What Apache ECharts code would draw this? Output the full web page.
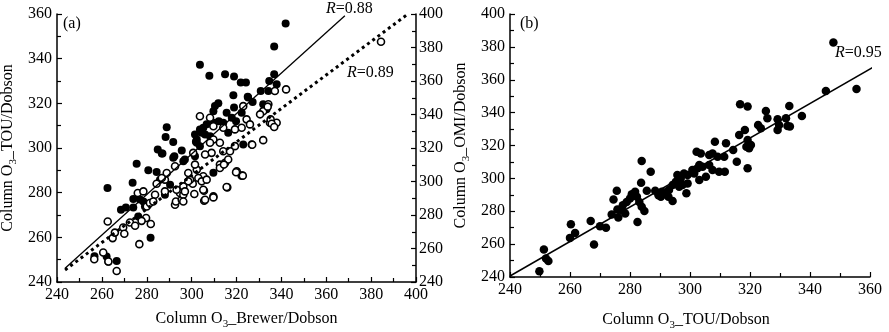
<!DOCTYPE html>
<html><head><meta charset="utf-8">
<script src="https://cdn.jsdelivr.net/npm/echarts@6/dist/echarts.min.js"></script>
<style>html,body{margin:0;padding:0;background:#fff}#c{width:889px;height:332px}</style>
</head><body><div id="c"></div>
<script>
// ---- Panel (a): TOU vs Brewer (filled, left axis) ----
const touBrewerX = [256.7,262.1,262.9,266.6,262.5,268.5,270.7,274.0,274.0,276.2,277.0,281.7,275.5,280.7,284.4,273.7,288.9,288.4,291.8,284.9,287.0,295.6,292.3,303.7,307.9,314.9,318.9,321.9,324.2,318.6,325.0,311.9,310.4,309.7,318.9,312.1,319.8,301.9,305.2,304.5,308.2,316.3,323.0,336.8,341.9,336.8,334.6,337.9,330.8,334.2,325.2,327.2,331.9,333.4,286.7,291.8,296.3,317.9,322.3,302.3,301.5,297.0,309.7,303.7,306.0,301.5,309.7,315.6,278.5,279.2,302.3,303.7,285.9,290.4,288.1,306.7,314.1];
const touBrewerY = [251.5,251.4,249.1,249.4,282.1,272.4,273.4,277.2,273.4,269.3,276.9,259.8,293.0,290.0,289.2,284.4,309.3,304.9,302.7,299.3,297.5,298.9,296.3,337.3,332.3,333.0,332.0,329.3,329.3,323.6,323.0,320.0,318.8,316.5,318.1,312.0,312.0,302.8,309.1,306.8,305.3,306.8,301.6,345.5,355.8,333.0,330.0,328.5,325.5,325.5,322.6,320.6,319.6,317.3,297.5,295.6,294.1,313.6,315.8,302.3,296.3,294.8,288.9,308.3,306.1,306.1,311.3,315.8,276.1,273.8,303.8,300.8,285.8,283.6,279.1,310.6,311.3];
// ---- Panel (a): OMI vs Brewer (open, right axis) ----
const omiBrewerX = [256.6,260.6,262.9,266.6,262.6,264.8,265.8,269.5,270.0,272.5,276.7,274.8,276.0,278.5,279.7,277.7,281.8,280.0,281.4,283.7,284.4,288.1,288.9,292.6,293.0,295.6,294.8,300.5,299.3,298.5,305.5,305.6,309.7,312.6,315.9,301.2,286.7,282.9,292.6,288.1,293.3,296.3,303.7,308.2,324.5,326.0,309.7,314.1,322.3,319.3,319.3,326.8,331.9,334.9,337.9,309.7,308.2,312.6,314.1,317.1,308.9,306.0,300.7,314.9,312.6,316.3,320.1,322.3,315.6,305.2,303.0,304.5,306.7,305.2,306.0,309.7,298.5,296.3,302.3,301.5,297.0,296.3,342.1,337.1,334.2,331.9,323.0,335.2,335.7,336.8,327.0,330.5,333.9,384.4,319.8,322.8,314.4];
const omiBrewerY = [253.6,257.6,252.2,246.6,276.1,266.2,269.5,272.5,268.8,275.5,262.6,273.6,293.1,294.1,278.2,276.5,274.6,285.1,287.2,292.1,298.7,301.1,305.1,286.1,288.1,289.1,293.1,298.7,301.1,305.1,294.5,288.5,291.1,310.1,296.5,292.5,302.1,288.1,309.1,294.1,295.1,292.1,339.0,338.1,337.1,334.1,333.0,332.1,332.1,331.1,321.1,322.1,324.7,335.1,335.1,325.1,323.1,323.1,318.1,318.1,317.1,316.1,317.1,311.1,308.1,313.1,306.1,303.5,296.7,303.1,302.1,300.1,301.1,295.1,289.1,290.5,300.1,297.1,307.1,310.1,294.1,288.1,355.0,354.0,346.1,342.0,345.0,337.1,334.5,332.5,321.9,340.1,344.7,383.4,305.5,303.5,310.1];
// ---- Panel (b): OMI vs TOU ----
const omiTouX = [249.8,251.3,252.0,252.8,260.3,260.0,261.7,266.9,268.0,270.0,272.0,273.9,274.5,275.6,275.8,276.1,277.3,278.4,277.6,278.9,280.0,280.6,281.7,282.5,282.3,283.1,283.9,283.9,283.7,284.8,285.6,286.9,288.4,289.5,290.6,292.3,292.8,347.8,345.3,355.5,337.3,333.1,332.0,329.2,329.7,332.5,333.3,329.2,325.3,325.8,322.7,323.6,316.7,319.2,318.3,316.4,319.2,320.3,319.7,318.8,319.2,315.6,314.4,312.0,311.4,311.6,309.7,308.3,309.2,307.5,306.4,303.6,302.2,306.4,307.5,304.2,303.1,302.5,305.3,303.1,301.4,300.8,299.2,298.0,296.9,295.8,295.3,299.2,297.5,296.4,294.2,293.0,291.9,290.8,290.3,294.2,298.8];
const omiTouY = [243.5,256.7,251.2,249.8,272.1,263.8,266.8,274.0,259.8,270.9,269.9,278.0,287.2,292.4,281.1,276.2,280.7,278.7,283.7,285.7,287.8,290.4,291.8,273.5,288.8,285.7,282.7,310.5,297.3,280.2,292.4,304.0,292.4,289.8,291.8,291.8,288.8,382.7,353.2,354.3,338.0,344.1,336.6,336.0,332.5,331.9,331.5,329.5,341.0,336.6,332.5,330.5,345.1,343.7,329.5,326.4,323.4,320.3,318.3,319.3,306.1,310.1,317.3,321.3,313.2,304.0,304.0,322.3,313.2,315.2,314.2,315.2,316.2,308.1,305.1,307.1,308.1,306.1,301.0,299.0,303.0,305.1,302.0,303.0,300.0,302.0,297.9,296.9,295.9,294.9,295.9,292.9,290.9,290.9,288.8,286.2,290.9];
// ---- Regression lines (end points) ----
const fitTouBrewer = [[243.6,246.2],[368.3,359.2]];
const fitOmiBrewer = [[243.6,247.2],[396.4,400]];
const fitOmiTou = [[240,240.6],[366.4,373.2]];
// ---- Axis ticks ----
const axisA_x = {min:240,max:400,interval:20};
const axisA_yL = {min:240,max:360,interval:20};
const axisA_yR = {min:240,max:400,interval:20};
const axisB_x = {min:240,max:360,interval:20};
const axisB_y = {min:240,max:400,interval:20};
const labels = {
  ax:'Column O{s|3}_Brewer/Dobson', ay:'Column O{s|3}_TOU/Dobson',
  bx:'Column O{s|3}_TOU/Dobson', by:'Column O{s|3}_OMI/Dobson',
  ra:'{i|R}=0.88', rb:'{i|R}=0.89', rc:'{i|R}=0.95', pa:'(a)', pb:'(b)'
};

const FONT = '"Liberation Serif","Times New Roman",serif';
const zip = (xs, ys) => xs.map((x, i) => [x, ys[i]]);
const nameStyle = {
  fontFamily: FONT, fontSize: 16, color: '#000', lineHeight: 22,
  rich: { s: { fontFamily: FONT, fontSize: 11, color: '#000', verticalAlign: 'bottom', lineHeight: 13 } }
};
function lbl(margin, pad) {
  return { show: true, color: '#000', fontFamily: FONT, fontSize: 16, margin: margin, padding: pad,
    showMinLabel: true, showMaxLabel: true, hideOverlap: false };
}
function axis(base, extra) {
  return Object.assign({
    type: 'value', scale: false,
    axisLine: { show: true, onZero: false, lineStyle: { color: '#000', width: 1.5 } },
    axisTick: { show: true, inside: true, length: 5, lineStyle: { color: '#000', width: 1.2 } },
    minorTick: { show: true, splitNumber: 2, length: 4, lineStyle: { color: '#000', width: 1.2 } },
    axisLabel: lbl(5, [0, 0, 0, 0]),
    splitLine: { show: false }, minorSplitLine: { show: false },
    nameTextStyle: nameStyle, nameLocation: 'middle'
  }, base, extra);
}
const chart = echarts.init(document.getElementById('c'), null, { renderer: 'canvas' });
const rText = (txt, x, y) => ({
  type: 'text', x: x, y: y,
  style: { text: txt, fontFamily: FONT, fontSize: 16, fill: '#000', verticalAlign: 'middle',
    rich: { i: { fontFamily: FONT, fontSize: 16, fontStyle: 'italic', fill: '#000' } } }
});
chart.setOption({
  animation: false,
  backgroundColor: '#fff',
  grid: [
    { left: 57, top: 14, width: 359, height: 268, outerBoundsMode: 'none', containLabel: false },
    { left: 510, top: 14, width: 360, height: 263, outerBoundsMode: 'none', containLabel: false }
  ],
  xAxis: [
    axis(axisA_x, { gridIndex: 0, position: 'bottom', name: labels.ax, nameGap: 23,
      nameTextStyle: Object.assign({}, nameStyle, { padding: [0, 0, 0, 20] }) }),
    axis(axisB_x, { gridIndex: 1, position: 'bottom', name: labels.bx, nameGap: 32,
      nameTextStyle: Object.assign({}, nameStyle, { padding: [0, 8, 0, 0] }) })
  ],
  yAxis: [
    axis(axisA_yL, { gridIndex: 0, position: 'left', name: labels.ay, nameGap: 38, nameRotate: 90, axisLabel: lbl(5, [3, 0, 0, 0]) }),
    axis(axisA_yR, { gridIndex: 0, position: 'right', axisLabel: lbl(3, [3, 0, 0, 0]) }),
    axis(axisB_y, { gridIndex: 1, position: 'left', name: labels.by, nameGap: 38, nameRotate: 90, axisLabel: lbl(5, [6, 0, 0, 0]) })
  ],
  graphic: [
    { type: 'text', x: 63, y: 24, style: { text: labels.pa, fontFamily: FONT, fontSize: 16, fill: '#000', verticalAlign: 'middle' } },
    { type: 'text', x: 520, y: 24, style: { text: labels.pb, fontFamily: FONT, fontSize: 16, fill: '#000', verticalAlign: 'middle' } },
    rText(labels.ra, 326, 9),
    rText(labels.rb, 347, 73),
    rText(labels.rc, 835, 53)
  ],
  series: [
    { type: 'scatter', xAxisIndex: 0, yAxisIndex: 0, data: zip(touBrewerX, touBrewerY),
      symbol: 'circle', symbolSize: 8, itemStyle: { color: '#000', opacity: 1 }, silent: true, z: 2 },
    { type: 'scatter', xAxisIndex: 0, yAxisIndex: 1, data: zip(omiBrewerX, omiBrewerY),
      symbol: 'circle', symbolSize: 7, itemStyle: { color: '#fff', borderColor: '#000', borderWidth: 1.6, opacity: 1 }, silent: true, z: 3 },
    { type: 'line', xAxisIndex: 0, yAxisIndex: 0, data: fitTouBrewer, symbol: 'none',
      lineStyle: { color: '#000', width: 1.3 }, silent: true, z: 4 },
    { type: 'line', xAxisIndex: 0, yAxisIndex: 1, data: fitOmiBrewer, symbol: 'none',
      lineStyle: { color: '#000', width: 3, type: [3, 3.5], cap: 'butt' }, silent: true, z: 4 },
    { type: 'scatter', xAxisIndex: 1, yAxisIndex: 2, data: zip(omiTouX, omiTouY),
      symbol: 'circle', symbolSize: 8.5, itemStyle: { color: '#000', opacity: 1 }, silent: true, z: 2 },
    { type: 'line', xAxisIndex: 1, yAxisIndex: 2, data: fitOmiTou, symbol: 'none', clip: false,
      lineStyle: { color: '#000', width: 1.5 }, silent: true, z: 4 }
  ]
});
</script></body></html>
